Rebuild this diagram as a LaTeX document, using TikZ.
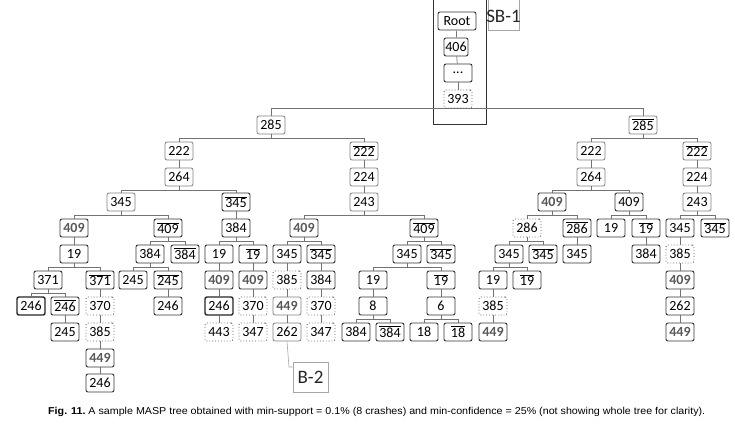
\documentclass[tikz,border=0pt]{standalone}
\usepackage{fontspec}
\usepackage{graphicx}
\setmainfont{Liberation Sans}
\newfontfamily\boxfont{Carlito}
\newcommand\ob[1]{\leavevmode\vbox{\hrule height 0.8pt\kern1.0pt\hbox{#1}}}
\newcommand\busto[3]{\draw[edge] (#1.south) -- ++(0,4);
  \draw[edge] (#2.north) |- ([yshift=-4pt]#1.south) -| (#3.north);}
\tikzset{
 nb/.style={draw=black!80, line width=0.9pt, rounded corners=2pt, minimum width=28pt,
   minimum height=18pt, inner sep=0pt, font=\boxfont\fontsize{14}{14}\selectfont, text=black},
 lt/.style={nb, draw=black!50, line width=0.8pt},
 tk/.style={nb, line width=1.4pt, draw=black!85},
 dt/.style={nb, draw=black!60, dotted, line width=0.9pt},
 hl/.style={text=black!65, font=\boxfont\bfseries\fontsize{14}{14}\selectfont},
 edge/.style={draw=black!55, line width=0.7pt},
 callout/.style={draw=black!35, line width=0.6pt},
}
\begin{document}
\begin{tikzpicture}[x=1pt,y=-1pt]
\useasboundingbox[fill=white] (0,0) rectangle (735,429);
% SB-1 callout
\node[draw=black!80, line width=0.7pt, minimum width=53pt, minimum height=132pt, inner sep=0pt] (sb) at (459.5,58) {};
\node[callout, minimum width=31pt, minimum height=36pt, inner sep=0pt] (sbbox) at (503.5,12) {};
\node[font=\boxfont\fontsize{19}{19}\selectfont, text=black!85] (sblab) at (503.5,16) {SB-1};
% top column
\node[nb, minimum width=38pt] (root) at (457,21) {Root};
\node[nb, minimum width=24pt] (n406) at (456,47) {406};
\node[nb] (ndots) at (458,73) {...};
\node[dt] (n393) at (458,99) {393};
\draw[edge] (root) -- (n406);
\draw[edge] (n406) -- (ndots);
\draw[edge] (ndots) -- (n393);
% level 1
\node[lt] (a285) at (271,125) {285};
\node[lt] (b285) at (643,125) {\ob{285}};
\draw[edge] (a285.north) |- (n393.south) -| (b285.north);
% left
\node[lt] (l222) at (179,151) {222};
\node[lt] (l222b) at (364,151) {\ob{222}};
\busto{a285}{l222}{l222b}
\node[lt] (l264) at (179,177) {264};
\draw[edge] (l222) -- (l264);
\node[lt] (l345) at (121,202) {345};
\node[nb] (l345b) at (236,202) {\ob{345}};
\busto{l264}{l345}{l345b}
\node[nb, hl] (l409) at (74,228) {409};
\node[nb] (l409b) at (168,228) {\ob{409}};
\busto{l345}{l409}{l409b}
\node[nb] (l19) at (74,254) {19};
\draw[edge] (l409) -- (l19);
\node[nb] (l371) at (48,280) {371};
\node[nb] (l371b) at (100,280) {\ob{371}};
\busto{l19}{l371}{l371b}
\node[tk] (l246) at (31,306) {246};
\node[nb] (l246b) at (65,306) {\ob{246}};
\busto{l371}{l246}{l246b}
\node[nb] (l245) at (65,332) {245};
\draw[edge] (l246b) -- (l245);
\node[dt] (l370) at (100,306) {370};
\node[dt] (l385) at (100,332) {385};
\node[nb, hl] (l449) at (100,358) {449};
\node[nb] (l246c) at (100,383) {246};
\draw[edge] (l371b) -- (l370);
\draw[edge] (l370) -- (l385);
\draw[edge] (l385) -- (l449);
\draw[edge] (l449) -- (l246c);
\node[nb] (l384) at (150,254) {384};
\node[nb] (l384b) at (185,254) {\ob{384}};
\busto{l409b}{l384}{l384b}
\node[nb] (l245c) at (133,280) {245};
\node[nb] (l245b) at (168,280) {\ob{245}};
\busto{l384}{l245c}{l245b}
\node[nb] (l246d) at (168,306) {246};
\draw[edge] (l245b) -- (l246d);
\node[nb] (m384) at (236,228) {384};
\draw[edge] (l345b) -- (m384);
\node[nb] (m19) at (219,254) {19};
\node[nb] (m19b) at (253,254) {\ob{19}};
\busto{m384}{m19}{m19b}
\node[nb, hl] (m409) at (219,280) {409};
\node[tk] (m246) at (219,306) {246};
\node[dt] (m443) at (219,332) {443};
\draw[edge] (m19) -- (m409);
\draw[edge] (m409) -- (m246);
\draw[edge] (m246) -- (m443);
\node[nb, hl] (m409c) at (253,280) {409};
\node[dt] (m370) at (253,306) {370};
\node[dt] (m347) at (253,332) {347};
\draw[edge] (m19b) -- (m409c);
\draw[edge] (m409c) -- (m370);
\draw[edge] (m370) -- (m347);
% center
\node[lt] (c224) at (364,177) {224};
\node[lt] (c243) at (364,202) {243};
\draw[edge] (l222b) -- (c224);
\draw[edge] (c224) -- (c243);
\node[nb, hl] (c409) at (304,228) {409};
\node[nb] (c409b) at (424,228) {\ob{409}};
\busto{c243}{c409}{c409b}
\node[nb] (c345) at (287,254) {345};
\node[nb] (c345b) at (321,254) {\ob{345}};
\busto{c409}{c345}{c345b}
\node[dt] (c385) at (287,280) {385};
\node[lt, hl] (c449) at (287,306) {449};
\node[lt] (c262) at (287,332) {262};
\draw[edge] (c345) -- (c385);
\draw[edge] (c385) -- (c449);
\draw[edge] (c449) -- (c262);
\node[nb] (c384) at (321,280) {384};
\node[dt] (c370) at (321,306) {370};
\node[dt] (c347) at (321,332) {347};
\draw[edge] (c345b) -- (c384);
\draw[edge] (c384) -- (c370);
\draw[edge] (c370) -- (c347);
\node[nb] (d345) at (407,254) {345};
\node[nb] (d345b) at (441,254) {\ob{345}};
\busto{c409b}{d345}{d345b}
\node[nb] (d19) at (373,280) {19};
\node[nb] (d19b) at (441,280) {\ob{19}};
\busto{d345}{d19}{d19b}
\node[nb] (d8) at (373,306) {8};
\draw[edge] (d19) -- (d8);
\node[nb] (d384) at (356,332) {384};
\node[nb] (d384b) at (390,332) {\ob{384}};
\busto{d8}{d384}{d384b}
\node[nb] (d6) at (441,306) {6};
\draw[edge] (d19b) -- (d6);
\node[nb] (d18) at (424,332) {18};
\node[nb] (d18b) at (458,332) {\ob{18}};
\busto{d6}{d18}{d18b}
% B-2 callout
\node[callout, minimum width=35pt, minimum height=30pt, inner sep=0pt,
  font=\boxfont\fontsize{19}{19}\selectfont, text=black!85] (b2) at (310.5,377) {B-2};
\coordinate (bend) at (289,367);
\draw[callout] (c262.south) -- (bend) -- (bend -| b2.west);
% right
\node[lt] (r222) at (591,151) {222};
\node[lt] (r222b) at (697,151) {\ob{222}};
\busto{b285}{r222}{r222b}
\node[lt] (r264) at (591,177) {264};
\draw[edge] (r222) -- (r264);
\node[nb, hl] (r409) at (552,202) {409};
\node[nb] (r409c) at (629,202) {409};
\busto{r264}{r409}{r409c}
\node[dt] (r286) at (527,228) {286};
\node[nb] (r286b) at (577,228) {\ob{286}};
\busto{r409}{r286}{r286b}
\node[nb] (r345) at (509,254) {345};
\node[nb] (r345b) at (543,254) {\ob{345}};
\busto{r286}{r345}{r345b}
\node[nb] (r19) at (493,280) {19};
\node[nb] (r19b) at (527,280) {\ob{19}};
\busto{r345}{r19}{r19b}
\node[dt] (r385) at (493,306) {385};
\node[nb, hl] (r449) at (493,332) {449};
\draw[edge] (r19) -- (r385);
\draw[edge] (r385) -- (r449);
\node[nb] (r345c) at (577,254) {345};
\draw[edge] (r286b) -- (r345c);
\node[nb] (r19c) at (611,228) {19};
\node[nb] (r19d) at (646,228) {\ob{19}};
\busto{r409c}{r19c}{r19d}
\node[nb] (r384) at (646,254) {384};
\draw[edge] (r19d) -- (r384);
\node[lt] (s224) at (697,177) {224};
\node[lt] (s243) at (697,202) {243};
\draw[edge] (r222b) -- (s224);
\draw[edge] (s224) -- (s243);
\node[nb] (s345) at (680,228) {345};
\node[nb] (s345b) at (715,228) {\ob{345}};
\busto{s243}{s345}{s345b}
\node[dt] (s385) at (680,254) {385};
\node[nb, hl] (s409) at (680,280) {409};
\node[nb] (s262) at (680,306) {262};
\node[nb, hl] (s449) at (680,332) {449};
\draw[edge] (s345) -- (s385);
\draw[edge] (s385) -- (s409);
\draw[edge] (s409) -- (s262);
\draw[edge] (s262) -- (s449);
% caption
\node[anchor=west, inner sep=0pt] (cap) at (48,412) {\resizebox{657pt}{\height}{\fontsize{10}{12}\selectfont\textbf{Fig. 11.}\ A sample MASP tree obtained with min-support = 0.1\% (8 crashes) and min-confidence = 25\% (not showing whole tree for clarity).}};
\end{tikzpicture}
\end{document}
